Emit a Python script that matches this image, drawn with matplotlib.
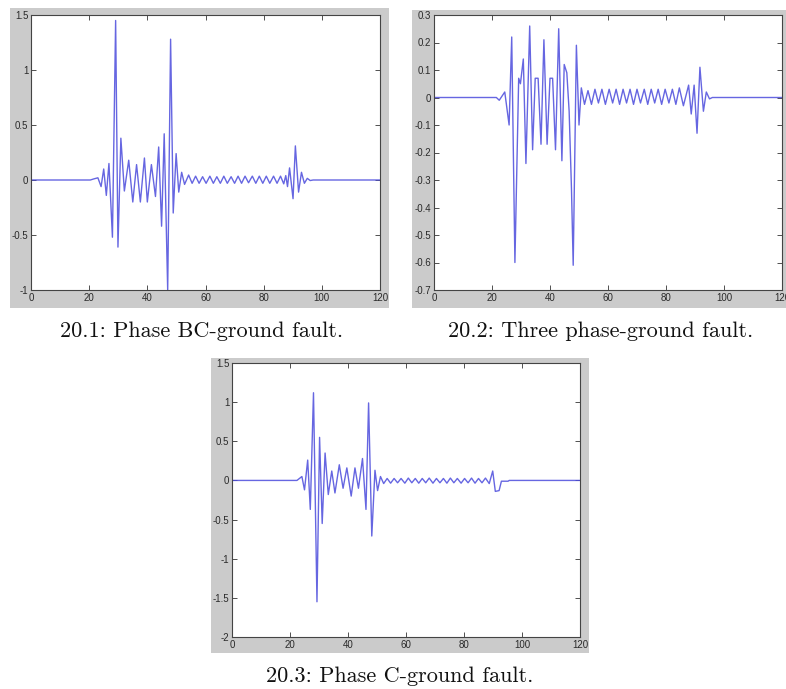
import matplotlib
matplotlib.use("Agg")
import matplotlib.pyplot as plt
from matplotlib.patches import Rectangle

plt.rcParams["axes.unicode_minus"] = False

# fault transients: turning points of each waveform (time, amplitude)
t_bc = [0, 20.4, 21.6, 23.0, 24.1, 25.0, 25.9, 26.8, 28.0, 29.1,
        29.9, 30.9, 32.1, 33.6, 35.0, 36.3, 37.6, 39.0, 40.0, 41.4,
        42.8, 43.9, 44.9, 45.8, 47.0, 48.0, 48.9, 49.9, 50.8, 51.8,
        52.8, 54.2, 55.4, 56.6, 57.8, 59.0, 60.2, 61.5, 62.7, 63.9,
        65.1, 66.3, 67.5, 68.8, 70.0, 71.2, 72.4, 73.6, 74.8, 76.1,
        77.3, 78.5, 79.7, 80.9, 82.1, 83.4, 84.6, 85.8, 86.9, 87.6,
        88.2, 88.9, 90.1, 90.9, 92.0, 93.0, 94.0, 95.0, 96.0, 97.0,
        120]
v_bc = [0, 0, 0.01, 0.02, -0.06, 0.1, -0.14, 0.15, -0.52, 1.45,
        -0.61, 0.38, -0.1, 0.18, -0.2, 0.14, -0.2, 0.2, -0.2, 0.14,
        -0.15, 0.3, -0.42, 0.42, -1.0, 1.28, -0.3, 0.24, -0.11, 0.07,
        -0.04, 0.045, -0.03, 0.035, -0.03, 0.03, -0.03, 0.035, -0.03, 0.03,
        -0.03, 0.035, -0.03, 0.03, -0.03, 0.035, -0.03, 0.035, -0.025, 0.035,
        -0.03, 0.035, -0.03, 0.035, -0.03, 0.035, -0.03, 0.035, -0.035, 0.04,
        -0.06, 0.11, -0.17, 0.31, -0.11, 0.07, -0.03, 0.015, -0.005, 0,
        0]

t_3ph = [0, 21.5, 22.5, 24.4, 25.9, 26.8, 27.9, 29.2, 29.8, 30.8,
         31.7, 33.0, 34.0, 34.9, 35.9, 36.9, 37.9, 39.0, 40.0, 40.9,
         41.9, 43.0, 44.1, 44.9, 45.8, 46.6, 47.4, 48.0, 49.1, 50.0,
         50.8, 51.9, 53.1, 54.3, 55.5, 56.7, 57.9, 59.1, 60.4, 61.6,
         62.8, 64.0, 65.2, 66.4, 67.6, 68.8, 70.0, 71.2, 72.5, 73.7,
         74.9, 76.1, 77.3, 78.5, 79.7, 81.0, 82.2, 83.4, 84.6, 86.0,
         87.8, 88.7, 89.7, 90.7, 91.7, 92.9, 93.9, 95.0, 96.0, 120]
v_3ph = [0, 0, -0.01, 0.02, -0.1, 0.22, -0.6, 0.07, 0.05, 0.14,
         -0.24, 0.26, -0.19, 0.07, 0.07, -0.17, 0.21, -0.17, 0.07, 0.07,
         -0.19, 0.25, -0.23, 0.12, 0.09, -0.05, -0.33, -0.61, 0.19, -0.1,
         0.035, -0.025, 0.025, -0.025, 0.03, -0.02, 0.03, -0.025, 0.03, -0.02,
         0.03, -0.025, 0.03, -0.02, 0.03, -0.025, 0.03, -0.02, 0.03, -0.025,
         0.03, -0.02, 0.03, -0.025, 0.03, -0.02, 0.03, -0.025, 0.035, -0.03,
         0.045, -0.06, 0.045, -0.13, 0.11, -0.05, 0.02, -0.005, 0, 0]

t_c = [0, 22.4, 24.1, 25.0, 26.1, 27.0, 28.1, 29.3, 30.2, 31.1,
       32.1, 33.2, 34.4, 35.5, 37.0, 38.3, 39.6, 41.1, 42.4, 43.6,
       45.0, 46.2, 47.1, 48.2, 49.3, 50.2, 51.2, 52.3, 53.5, 54.7,
       55.9, 57.1, 58.3, 59.6, 60.8, 62.0, 63.2, 64.4, 65.6, 66.8,
       68.0, 69.3, 70.5, 71.7, 72.9, 74.1, 75.3, 76.5, 77.7, 79.0,
       80.2, 81.4, 82.6, 83.8, 85.0, 86.2, 87.4, 88.7, 89.9, 90.8,
       92.1, 92.9, 93.3, 95.2, 95.6, 120]
v_c = [0, 0, 0.05, -0.12, 0.26, -0.37, 1.12, -1.55, 0.55, -0.55,
       0.35, -0.18, 0.12, -0.16, 0.2, -0.1, 0.16, -0.2, 0.16, -0.1,
       0.28, -0.37, 0.99, -0.71, 0.13, -0.13, 0.05, -0.04, 0.025, -0.035,
       0.025, -0.03, 0.025, -0.035, 0.03, -0.03, 0.025, -0.035, 0.025, -0.03,
       0.03, -0.035, 0.025, -0.03, 0.025, -0.035, 0.03, -0.03, 0.025, -0.035,
       0.025, -0.03, 0.03, -0.035, 0.025, -0.03, 0.03, -0.04, 0.12, -0.14,
       -0.13, -0.01, -0.01, -0.01, 0, 0]

x_ticks = [0, 20, 40, 60, 80, 100, 120]
y_ticks_bc = [-1, -0.5, 0, 0.5, 1, 1.5]
y_ticks_3ph = [-0.7, -0.6, -0.5, -0.4, -0.3, -0.2, -0.1, 0, 0.1, 0.2, 0.3]
y_ticks_c = [-2, -1.5, -1, -0.5, 0, 0.5, 1, 1.5]

captions = ["20.1: Phase BC-ground fault.",
            "20.2: Three phase-ground fault.",
            "20.3: Phase C-ground fault."]

W, H = 786, 689
fig = plt.figure(figsize=(W / 100, H / 100), dpi=100)
fig.patch.set_facecolor("white")


def rect(l, t, r, b):
    # pixel box (from top-left) -> figure fraction
    return [l / W, 1 - b / H, (r - l) / W, (b - t) / H]


panels = [
    (t_bc, v_bc, y_ticks_bc, (10, 8, 389, 308), (31, 15, 380, 290), (202, 337)),
    (t_3ph, v_3ph, y_ticks_3ph, (412, 10, 786, 308), (434, 15, 782, 290), (601, 337)),
    (t_c, v_c, y_ticks_c, (211, 358, 589, 653), (232, 363, 580, 637), (400, 682)),
]

for (t, v, yt, frame, box, cap), text in zip(panels, captions):
    fr = rect(*frame)
    fig.add_artist(Rectangle((fr[0], fr[1]), fr[2], fr[3], transform=fig.transFigure,
                             facecolor="#cbcbcb", edgecolor="none", zorder=0))
    ax = fig.add_axes(rect(*box))
    ax.set_facecolor("white")
    ax.plot(t, v, color="#4b4bdc", lw=1.0, alpha=0.85)
    ax.set_xlim(0, 120)
    ax.set_ylim(yt[0], yt[-1])
    ax.set_xticks(x_ticks)
    ax.set_yticks(yt)
    ax.set_xticklabels([f"{x:g}" for x in x_ticks])
    ax.set_yticklabels([f"{y:g}" for y in yt])
    ax.tick_params(direction="in", length=3.5, width=0.6, color="#333333",
                   top=True, right=True, labelsize=7, labelcolor="#2a2a2a", pad=2)
    for lab in ax.get_xticklabels() + ax.get_yticklabels():
        lab.set_fontfamily("Liberation Sans")
    for s in ax.spines.values():
        s.set_color("#444444")
        s.set_linewidth(0.8)
    fig.text(cap[0] / W, 1 - cap[1] / H, text, ha="center", va="baseline",
             fontsize=16, family="cmr10", color="#111111")

fig.savefig("out.png", dpi=100)
